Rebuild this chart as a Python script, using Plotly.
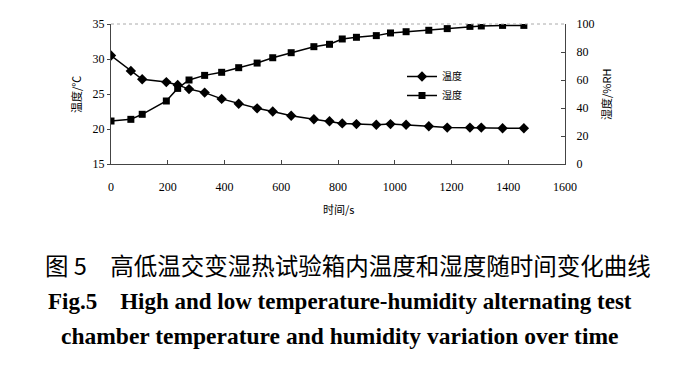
import plotly.graph_objects as go

W, H = 688, 369

time_s = [0, 70, 110, 195, 235, 275, 330, 390, 450, 515, 570, 635, 715, 770,
          815, 865, 935, 985, 1040, 1120, 1185, 1265, 1305, 1380, 1455]
temperature = [30.5, 28.3, 27.1, 26.7, 26.3, 25.7, 25.2, 24.3, 23.6, 22.95,
               22.5, 21.9, 21.4, 21.1, 20.8, 20.7, 20.6, 20.7, 20.6, 20.4,
               20.2, 20.2, 20.2, 20.1, 20.1]
humidity = [30.7, 31.9, 35.5, 45.0, 54.0, 60.0, 63.3, 65.5, 68.8, 72.1,
            75.9, 79.5, 83.8, 85.5, 89.3, 90.5, 91.7, 93.6, 94.5, 95.5,
            96.7, 98.3, 98.6, 99.0, 99.0]

x_ticks = [0, 200, 400, 600, 800, 1000, 1200, 1400, 1600]
yl_ticks = [15, 20, 25, 30, 35]
yr_ticks = [0, 20, 40, 60, 80, 100]

x0, x1 = 111, 565
y0, y1 = 24, 164

fig = go.Figure()
fig.add_trace(go.Scatter(
    x=time_s, y=temperature, name="温度", mode="lines+markers",
    line=dict(color="black", width=1.5),
    marker=dict(symbol="diamond", size=8, color="black"),
    yaxis="y"))
fig.add_trace(go.Scatter(
    x=time_s, y=humidity, name="湿度", mode="lines+markers",
    line=dict(color="black", width=1.5),
    marker=dict(symbol="square", size=7, color="black"),
    yaxis="y2"))

tickfont = dict(family="Liberation Serif", size=12, color="black")
cjk = "Noto Sans CJK SC"

fig.update_layout(
    width=W, height=H,
    margin=dict(l=x0, r=W - x1, t=y0, b=H - y1, autoexpand=False),
    paper_bgcolor="white", plot_bgcolor="white",
    showlegend=True,
    legend=dict(x=(402 - x0) / (x1 - x0), y=1 - (62 - y0) / (y1 - y0),
                xanchor="left", yanchor="top",
                font=dict(family=cjk, size=10, color="black"),
                bgcolor="rgba(0,0,0,0)", itemwidth=30, tracegroupgap=0),
    xaxis=dict(range=[0, 1600], automargin=False,
               tickvals=x_ticks, ticktext=[str(v) for v in x_ticks],
               showgrid=False, zeroline=False, showline=True,
               linecolor="#444", linewidth=1, ticks="inside", ticklen=4,
               tickcolor="#444", tickfont=tickfont, ticklabelstandoff=12),
    yaxis=dict(range=[15, 35], automargin=False,
               tickvals=yl_ticks, showgrid=False, zeroline=False,
               showline=True, linecolor="#444", linewidth=1,
               ticks="outside", ticklen=3, tickcolor="#444",
               tickfont=tickfont),
    yaxis2=dict(overlaying="y", side="right", anchor="x", range=[0, 100],
                automargin=False,
                tickvals=yr_ticks, showgrid=False, zeroline=False,
                showline=True, linecolor="#444", linewidth=1,
                ticks="inside", ticklen=4, tickcolor="#444",
                tickfont=tickfont, ticklabelstandoff=8),
)

# faint top border
fig.add_shape(type="line", xref="paper", yref="paper",
              x0=0, x1=1, y0=1, y1=1,
              line=dict(color="#aaaaaa", width=1, dash="dot"))


def px(x):
    return (x - x0) / (x1 - x0)


def py(y):
    return 1 - (y - y0) / (y1 - y0)


ann = [
    dict(text="温度/℃", x=px(76), y=py(95), textangle=-90,
         font=dict(family=cjk, size=11, color="black")),
    dict(text="湿度/%RH", x=px(606), y=py(95), textangle=-90,
         font=dict(family=cjk, size=11, color="black")),
    dict(text="时间/s", x=px(338), y=py(209),
         font=dict(family=cjk, size=11, color="black")),
    dict(text="图 5　高低温交变湿热试验箱内温度和湿度随时间变化曲线",
         x=px(348), y=py(265),
         font=dict(family=cjk, size=23.5, color="black")),
    dict(text="<b>Fig.5    High and low temperature-humidity alternating test</b>",
         x=px(340), y=py(301),
         font=dict(family="Liberation Serif", size=23, color="black")),
    dict(text="<b>chamber temperature and humidity variation over time</b>",
         x=px(339), y=py(336),
         font=dict(family="Liberation Serif", size=23.5, color="black")),
]
for a in ann:
    fig.add_annotation(xref="paper", yref="paper", xanchor="center",
                       yanchor="middle", showarrow=False, **a)

fig.write_html("out.html", config={"displayModeBar": False},
               post_script="document.body.style.margin='0';"
                           "document.body.style.padding='0';")
